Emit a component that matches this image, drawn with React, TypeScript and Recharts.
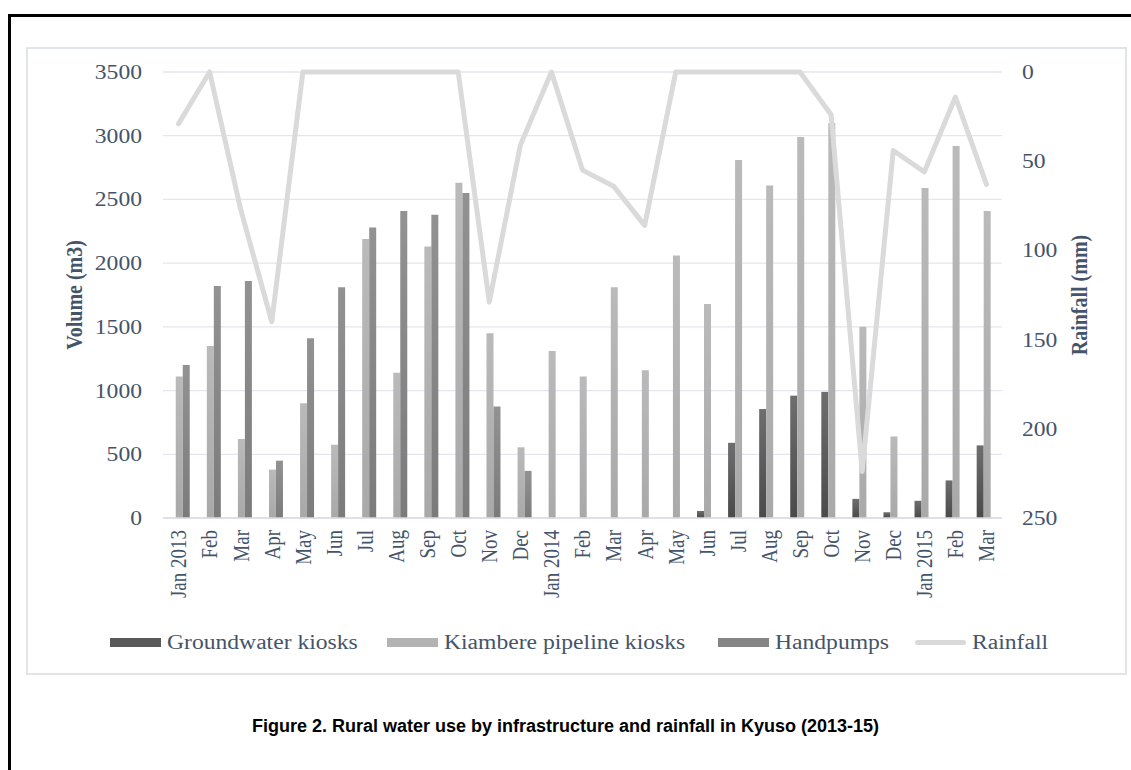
import { Bar, CartesianGrid, ComposedChart, Line, XAxis, YAxis } from "recharts";

const months = [
  "Jan 2013", "Feb", "Mar", "Apr", "May", "Jun", "Jul", "Aug", "Sep", "Oct", "Nov", "Dec",
  "Jan 2014", "Feb", "Mar", "Apr", "May", "Jun", "Jul", "Aug", "Sep", "Oct", "Nov", "Dec",
  "Jan 2015", "Feb", "Mar",
];
const groundwater = [0, 0, 0, 0, 0, 0, 0, 0, 0, 0, 0, 0, 0, 0, 0, 0, 0, 55, 590, 855, 960, 990, 150, 45, 135, 295, 570];
const kiambere = [1110, 1350, 620, 380, 900, 575, 2190, 1140, 2130, 2630, 1450, 555, 1310, 1110, 1810, 1160, 2060, 1680, 2810, 2610, 2990, 3100, 1500, 640, 2590, 2920, 2410];
const handpumps = [1200, 1820, 1860, 450, 1410, 1810, 2280, 2410, 2380, 2550, 875, 370, 0, 0, 0, 0, 0, 0, 0, 0, 0, 0, 0, 0, 0, 0, 0];
const rainfall = [29, 0, 77, 140, 0, 0, 0, 0, 0, 0, 129, 41, 0, 55, 64, 86, 0, 0, 0, 0, 0, 24, 224, 44, 56, 14, 63];
const volumeTicks = [0, 500, 1000, 1500, 2000, 2500, 3000, 3500];
const rainTicks = [0, 50, 100, 150, 200, 250];

const data = months.map((m, i) => ({
  key: `m${i}`,
  month: m,
  groundwater: groundwater[i],
  kiambere: kiambere[i],
  handpumps: handpumps[i],
  rainfall: rainfall[i],
}));

const TEXT = "#44546A";
const FONT = "'Liberation Serif', 'Times New Roman', serif";
const SX = 1.18; // the original figure is stretched horizontally

function LeftTick({ x, y, payload }: any) {
  return (
    <text transform={`translate(${x},${y}) scale(${SX},1)`} textAnchor="end" dy="0.35em" fill={TEXT} fontSize={20} fontFamily={FONT}>
      {payload.value}
    </text>
  );
}

function RightTick({ x, y, payload }: any) {
  return (
    <text transform={`translate(${x},${y}) scale(${SX},1)`} textAnchor="start" dy="0.35em" fill={TEXT} fontSize={20} fontFamily={FONT}>
      {payload.value}
    </text>
  );
}

function MonthTick({ x, y, payload }: any) {
  return (
    <text transform={`translate(${x},${y}) scale(${SX},1) rotate(-90)`} textAnchor="end" dy="0.35em" fill={TEXT} fontSize={19} fontFamily={FONT}>
      {months[payload.index]}
    </text>
  );
}

// legend entries, left edge of each swatch in the figure
const legendItems = [
  { label: "Groundwater kiosks", color: "#595959", line: false, left: 110 },
  { label: "Kiambere pipeline kiosks", color: "#b3b3b3", line: false, left: 387 },
  { label: "Handpumps", color: "#858585", line: false, left: 718 },
  { label: "Rainfall", color: "#d9d9d9", line: true, left: 915 },
];

export default function App() {
  return (
    <div style={{ position: "fixed", left: 0, top: 0, width: 1131, height: 770, overflow: "hidden", background: "#fff" }}>
      <div style={{ position: "absolute", left: 8, top: 14, width: 1300, height: 1000, border: "3px solid #000" }} />
      <div style={{ position: "absolute", left: 26, top: 47, width: 1097, height: 624, border: "2px solid #e1e5ea" }} />
      <div style={{ position: "absolute", left: 0, top: 0 }}>
        <ComposedChart width={1131} height={770} data={data} margin={{ top: 72, right: 59, bottom: 162, left: 93 }} barCategoryGap="18.5%" barGap={0}>
          <defs>
            <linearGradient id="gGw" x1="0" y1="0" x2="0" y2="1">
              <stop offset="0%" stopColor="#6e6e6e" />
              <stop offset="100%" stopColor="#4a4a4a" />
            </linearGradient>
            <linearGradient id="gKb" x1="0" y1="0" x2="0" y2="1">
              <stop offset="0%" stopColor="#bababa" />
              <stop offset="100%" stopColor="#a9a9a9" />
            </linearGradient>
            <linearGradient id="gHp" x1="0" y1="0" x2="0" y2="1">
              <stop offset="0%" stopColor="#929292" />
              <stop offset="100%" stopColor="#7b7b7b" />
            </linearGradient>
          </defs>
          <CartesianGrid yAxisId="vol" vertical={false} stroke="#e3e6ee" strokeWidth={1.3} />
          <XAxis dataKey="key" interval={0} height={90} tickSize={0} tickMargin={12} tickLine={false} axisLine={{ stroke: "#dadde6", strokeWidth: 1.5 }} tick={<MonthTick />} />
          <YAxis yAxisId="vol" orientation="left" width={70} domain={[0, 3500]} ticks={volumeTicks} tickSize={0} tickMargin={21} axisLine={false} tickLine={false} tick={<LeftTick />} />
          <YAxis yAxisId="rain" orientation="right" width={70} domain={[0, 250]} ticks={rainTicks} reversed tickSize={0} tickMargin={20} axisLine={false} tickLine={false} tick={<RightTick />} />
          <Bar yAxisId="vol" dataKey="groundwater" name="Groundwater kiosks" fill="url(#gGw)" isAnimationActive={false} />
          <Bar yAxisId="vol" dataKey="kiambere" name="Kiambere pipeline kiosks" fill="url(#gKb)" isAnimationActive={false} />
          <Bar yAxisId="vol" dataKey="handpumps" name="Handpumps" fill="url(#gHp)" isAnimationActive={false} />
          <Line yAxisId="rain" dataKey="rainfall" name="Rainfall" type="linear" stroke="#dadada" strokeWidth={5} strokeLinecap="round" strokeLinejoin="round" dot={false} activeDot={false} isAnimationActive={false} />
          <text transform={`translate(82,295) scale(${SX},1) rotate(-90)`} textAnchor="middle" fill={TEXT} fontSize={20} fontWeight="bold" fontFamily={FONT}>
            Volume (m3)
          </text>
          <text transform={`translate(1087,295) scale(${SX},1) rotate(-90)`} textAnchor="middle" fill={TEXT} fontSize={20} fontWeight="bold" fontFamily={FONT}>
            Rainfall (mm)
          </text>
        </ComposedChart>
      </div>
      {legendItems.map((it) => (
        <div key={it.label} style={{ position: "absolute", left: it.left, top: 630, height: 24, display: "flex", alignItems: "center", whiteSpace: "nowrap" }}>
          <div style={{ width: 51, height: it.line ? 5 : 9, borderRadius: it.line ? 3 : 0, background: it.color, marginRight: 6 }} />
          <span style={{ fontFamily: FONT, fontSize: 20, color: TEXT, display: "inline-block", transform: `scaleX(${SX})`, transformOrigin: "left center" }}>
            {it.label}
          </span>
        </div>
      ))}
      <div style={{ position: "absolute", left: 0, width: 1131, top: 716, textAlign: "center", fontFamily: "'Liberation Sans', Arial, sans-serif", fontWeight: "bold", fontSize: 18, color: "#000" }}>
        Figure 2. Rural water use by infrastructure and rainfall in Kyuso (2013-15)
      </div>
    </div>
  );
}
